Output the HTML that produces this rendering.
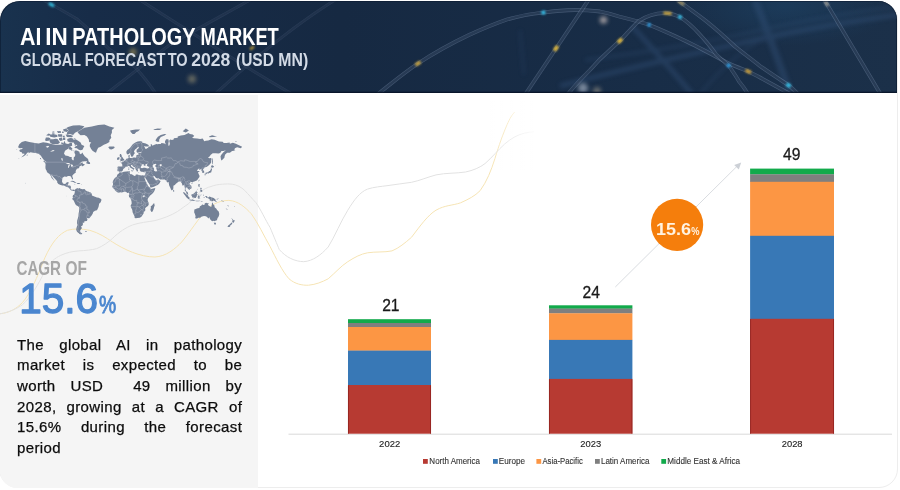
<!DOCTYPE html>
<html lang="en">
<head>
<meta charset="utf-8">
<title>AI in Pathology Market</title>
<style>
html,body{margin:0;padding:0}
body{width:900px;height:490px;background:#fff;position:relative;overflow:hidden;font-family:"Liberation Sans",sans-serif}
.card{position:absolute;left:-1px;top:1px;width:899px;height:487px;box-sizing:border-box;border:1px solid #ededed;border-radius:19px}
.panel{position:absolute;left:0;top:95px;width:257.5px;height:393px;background:#f5f5f5;border-radius:0 0 0 17px}
svg.art{position:absolute;left:0;top:0;width:900px;height:490px}
.t{position:absolute;white-space:nowrap;line-height:1;transform-origin:0 0}
.para{position:absolute;left:17px;top:334.6px;width:225.2px;font-size:15px;line-height:20.7px;color:#0c0c0c;letter-spacing:.38px;-webkit-text-stroke:.25px #0c0c0c}
.para div{text-align:justify;text-align-last:justify;white-space:nowrap}
.para div.last{text-align-last:left}
</style>
</head>
<body>
<div class="card"></div>
<div class="panel"></div>

<svg class="art" viewBox="0 0 900 490">
  <defs>
    <clipPath id="hc"><path d="M0 93V21A20 20 0 0 1 20 1H878.5A18.5 18.5 0 0 1 897 19.5V93Z"/></clipPath>
    <linearGradient id="hg" x1="0" y1="0" x2="1" y2="0">
      <stop offset="0" stop-color="#19324e"/>
      <stop offset=".1" stop-color="#172c48"/>
      <stop offset=".38" stop-color="#162942"/>
      <stop offset=".72" stop-color="#182d47"/>
      <stop offset="1" stop-color="#1b3049"/>
    </linearGradient>
    <radialGradient id="glow"><stop offset="0" stop-color="#1f4f78" stop-opacity=".38"/><stop offset="1" stop-color="#1f4f78" stop-opacity="0"/></radialGradient>
    <filter id="b2" x="-20%" y="-50%" width="140%" height="200%"><feGaussianBlur stdDeviation="2.2"/></filter>
    <filter id="b5" x="-20%" y="-50%" width="140%" height="200%"><feGaussianBlur stdDeviation="5"/></filter>
    <filter id="b1" x="-50%" y="-50%" width="200%" height="200%"><feGaussianBlur stdDeviation=".9"/></filter>
  </defs>

  <!-- ===== header ===== -->
  <g clip-path="url(#hc)">
    <rect x="0" y="0" width="900" height="94" fill="url(#hg)"/>
    <ellipse cx="785" cy="6" rx="110" ry="40" fill="url(#glow)"/>
    
    
    <!-- blurry background bands -->
    <g filter="url(#b2)" stroke="#35527a" fill="none" opacity=".42">
      <path d="M560 86 C620 70 700 52 760 39 C810 28 860 20 900 14.5" stroke-width="5"/>
      <path d="M585 60 C650 52 720 40 780 26 C830 16 870 10 900 6" stroke-width="3.5" opacity=".7"/>
      <path d="M755 0 C765 26 776 52 790 94" stroke-width="7"/>
      <path d="M632 26 C652 48 672 70 692 94" stroke-width="5"/>
      <path d="M700 94 C720 70 740 50 770 35" stroke-width="3" opacity=".6"/>
      <path d="M520 30 L524 75" stroke-width="3" opacity=".5"/>
    </g>
    <g fill="none">
      <path d="M378 94 C392 83 405 72 418 63.5 C434 53 450 44 469 35 C482 29 494 24 507 19.5 C519 16 531 13.8 543 12.6 C554 11.2 565 10.2 575 10 C584 10 592 10.5 600 11.5 C607 12.8 613 14.5 619 16.5 C629 19 639 21.5 649 24.8 C662 30 675 36 687 41.7 C700 48 713 55 726 62 C734 66 741 68.5 748 71.3 C752 73.5 756 75.3 760 77.5 C770 83 780 88.5 790 94" stroke="#a9bedb" stroke-width="3.8" opacity="0.3"/><path d="M378 94 C392 83 405 72 418 63.5 C434 53 450 44 469 35 C482 29 494 24 507 19.5 C519 16 531 13.8 543 12.6 C554 11.2 565 10.2 575 10 C584 10 592 10.5 600 11.5 C607 12.8 613 14.5 619 16.5 C629 19 639 21.5 649 24.8 C662 30 675 36 687 41.7 C700 48 713 55 726 62 C734 66 741 68.5 748 71.3 C752 73.5 756 75.3 760 77.5 C770 83 780 88.5 790 94" stroke="#172a44" stroke-width="2.5" opacity="0.62"/>
      <path d="M568 94 C575 85 582 78 590 70 C597 62 603 56 609.4 50.4 C613 47 616 44 620 40.7 C626 34.5 632 27.5 638.4 21.3 C647 15.5 657 12.5 667.5 13.2 C672 14 676 15.2 680 17 C687 21.5 693 27 698.5 33 C705 40 711 47 716 54.3 C720 58 724 61.5 728.6 65.5 C732 70.5 736 76 739 81.4 C742 85 745 89 748 94" stroke="#a9bedb" stroke-width="3.8" opacity="0.3"/><path d="M568 94 C575 85 582 78 590 70 C597 62 603 56 609.4 50.4 C613 47 616 44 620 40.7 C626 34.5 632 27.5 638.4 21.3 C647 15.5 657 12.5 667.5 13.2 C672 14 676 15.2 680 17 C687 21.5 693 27 698.5 33 C705 40 711 47 716 54.3 C720 58 724 61.5 728.6 65.5 C732 70.5 736 76 739 81.4 C742 85 745 89 748 94" stroke="#172a44" stroke-width="2.5" opacity="0.62"/>
      <path d="M677.5 0 C687 7 697 14 706 21 C716 29 726 38 735 46.5 C743 53 752 59.5 760 66 C770 73 780 79.5 788.5 85.3 C792 88 795 91 798 94" stroke="#a9bedb" stroke-width="3.8" opacity="0.3"/><path d="M677.5 0 C687 7 697 14 706 21 C716 29 726 38 735 46.5 C743 53 752 59.5 760 66 C770 73 780 79.5 788.5 85.3 C792 88 795 91 798 94" stroke="#172a44" stroke-width="2.5" opacity="0.62"/>
      <path d="M525.5 94 L588.5 0" stroke="#a9bedb" stroke-width="3.8" opacity="0.3"/><path d="M525.5 94 L588.5 0" stroke="#172a44" stroke-width="2.5" opacity="0.62"/>
      <path d="M824.5 0 L880.5 94" stroke="#a9bedb" stroke-width="3.8" opacity="0.3"/><path d="M824.5 0 L880.5 94" stroke="#172a44" stroke-width="2.5" opacity="0.62"/>
      <path d="M43.5 0 C55 6.5 66 12.5 77.5 19.4 C88 28.5 98 38 108.5 48.4 C118 55 127 61 135.7 67.8 C142 75 149 83 156 94" stroke="#a9bedb" stroke-width="3.0" opacity="0.12"/><path d="M43.5 0 C55 6.5 66 12.5 77.5 19.4 C88 28.5 98 38 108.5 48.4 C118 55 127 61 135.7 67.8 C142 75 149 83 156 94" stroke="#172a44" stroke-width="1.7" opacity="0.5"/>
      <path d="M106 94 C127 78 148 61 170 44.6 C195 30 225 14 250 0" stroke="#a9bedb" stroke-width="3.0" opacity="0.12"/><path d="M106 94 C127 78 148 61 170 44.6 C195 30 225 14 250 0" stroke="#172a44" stroke-width="1.7" opacity="0.5"/>
      <path d="M215 94 C250 62 290 28 335 0" stroke="#a9bedb" stroke-width="3.0" opacity="0.12"/><path d="M215 94 C250 62 290 28 335 0" stroke="#172a44" stroke-width="1.7" opacity="0.5"/>
      <path d="M140 0 C190 32 240 64 292 94" stroke="#a9bedb" stroke-width="3.0" opacity="0.12"/><path d="M140 0 C190 32 240 64 292 94" stroke="#172a44" stroke-width="1.7" opacity="0.5"/>
    </g>
    <!-- colored light patches -->
    <g stroke-linecap="butt" fill="none" filter="url(#b1)">
      <path d="M49 3.4 L54 6.2" stroke="#2fb6d8" stroke-width="3.2"/>
      <path d="M415.5 65.2 L420.5 61.8" stroke="#d9b040" stroke-width="3.4" opacity=".9"/>
      <path d="M541.5 12.8 L545.3 12.4" stroke="#35c0e8" stroke-width="3.6"/>
      <path d="M554.4 50.8 L557.6 46" stroke="#e0b83c" stroke-width="3.6"/>
      <path d="M618 42.6 L622 38.8" stroke="#e0b83c" stroke-width="3.6"/>
      <path d="M647.6 24.3 L650.6 25.3" stroke="#2f9fe6" stroke-width="3.4"/>
      <path d="M663.5 13 L671.5 13.6" stroke="#d9b040" stroke-width="3.2" opacity=".9"/>
      <path d="M678.4 16.2 L681.6 17.8" stroke="#35c0e8" stroke-width="3.6"/>
      <path d="M727.2 64.3 L730 66.7" stroke="#2f9fe6" stroke-width="3.4"/>
      <path d="M745.5 70.2 L751 72.6" stroke="#d9a93a" stroke-width="3.4" opacity=".9"/>
      <path d="M786.5 84 L790.5 86.6" stroke="#35c0e8" stroke-width="3.6"/>
      <path d="M678 0.5 L684 4.8" stroke="#cbb270" stroke-width="3.2" opacity=".7"/>
      <path d="M825 1 L828 6" stroke="#d8cfb5" stroke-width="3.2" opacity=".6"/>
      <path d="M250 49.3 L254 46.6" stroke="#c9a53a" stroke-width="2.6" opacity=".8"/>
    </g>
    <g filter="url(#b2)">
      <circle cx="133" cy="52" r="3.5" fill="#d9b85a" opacity=".55"/>
      <circle cx="192" cy="79" r="4" fill="#d9c48a" opacity=".4"/>
      <circle cx="603.5" cy="20" r="3.6" fill="#e0cfc8" opacity=".7"/>
      <circle cx="583" cy="88" r="5" fill="#c9d2e2" opacity=".55"/>
      <circle cx="597" cy="91" r="4" fill="#d9c8a8" opacity=".4"/>
    </g>
    <rect x="0" y="91.7" width="900" height="1.5" fill="#071327" opacity=".85"/>
    <path d="M0 93V21A20 20 0 0 1 20 1H878.5A18.5 18.5 0 0 1 897 19.5V93" fill="none" stroke="#0a182d" stroke-width="1.6" opacity=".7"/>
  </g>

  <!-- ===== decorative waves ===== -->
  <g fill="none" stroke-width="1">
    <path stroke="#f6e4b4" d="M0 313.8 C10 312.5 16 309 22.4 302.6 C30 294 37 278 44.9 257.7 C52 242 59 234 67.4 230.3 C74 228.4 82 228.6 89.8 230.3 C99 233 106 237.5 112.3 241.9 C124 249.5 140 257 154.9 257 C166 256.5 175 249 181.8 241.9 C190 232 199 218 206.5 209.4 C214 203 221 200.5 228.9 200.4 C238 201 245 207 251.4 213.9 C258 223 264 236 270 246.4 C276 258 282 271 289 278.8 C295 284 302 285.5 308.6 285.2 C316 284.5 322 282 328.2 278.8 C335 273 341 266 347.8 261.7 C355 257 361 254 367.5 252.8 C376 251.5 384 252.5 392 250.9 C399 248 405 243 411.6 237.2 C420 226 428 215 436 210.2 C445 205 453 205.5 460.6 202.8 C468 199.5 475 196 480.2 190.6 C487 181 491 171 494.9 158.7 C499 145 503 134 507.2 124.4 C510 118 512 115 514.5 112.2"/>
    <path stroke="#e2e2e2" d="M0 313.8 C10 312 17 308.5 22.4 304.8 C31 297 38 285 44.9 271.1 C50 262 55 258 60.6 255.4 C67 252.5 72 251.5 78.6 250.9 C86 250.5 91 250 96.5 248.7 C103 246 108 242.5 112.3 238.6 C119 232 126 227.5 132.4 225 C140 222.5 147 222 154.9 220.6 C163 218.5 171 215.5 177.3 211.6 C182 208.5 185 206 188.5 203.8 C192 200 196 196 199.8 192.5 C204 189 207 187.5 211 186.5 C215 185 218 184.5 222.2 184.2 C226 183.8 229 183.8 232.3 184.2 C237 185 241 187 244.6 190.3 C249 195 252 198.5 255.9 202.6 C260 208 266 221 270 227.3 C274 237 277 244 279.2 249.4 C286 257.5 295 261.5 303.7 261.7 C313 261 321 255 328.2 247 C335 236 341 221 347.8 210.2 C354 200 360 192 367.5 189.1 C374 187 381 186.5 387 185.7 C395 184.5 403 183.5 411.6 182.3 C420 180.5 428 177 436 174.9 C446 172.8 456 173.5 465.5 172 C473 170.5 480 167.5 485 163.6 C492 157.5 498 150 504.7 144 C511 138.5 517 135 524.3 133.2 C528 132.3 531 132 534 131.8"/>
  </g>
  <!-- fade-out masks for wave ends -->
  <defs>
    <linearGradient id="fade" x1="0" y1="0" x2="1" y2="0"><stop offset="0" stop-color="#fff" stop-opacity="0"/><stop offset="1" stop-color="#fff"/></linearGradient>
  </defs>
  <rect x="490" y="100" width="50" height="70" fill="url(#fade)"/>

  <!-- ===== world map ===== -->
  <path fill="#748196" fill-rule="evenodd" d="M18.0 147.3L19.3 144.3L21.8 142.1L25.2 141.0L29.3 141.9L34.9 142.9L38.7 143.6L43.1 142.2L46.8 142.7L51.2 144.1L55.6 144.7L60.0 144.7L63.1 144.3L64.4 140.8L65.6 143.6L68.1 144.1L70.0 143.0L71.9 143.0L72.2 145.7L69.4 146.8L68.1 148.8L65.0 150.8L64.0 153.6L65.3 155.4L68.1 155.9L70.0 156.9L71.7 157.0L71.7 158.9L72.8 160.3L73.7 160.2L73.7 157.6L75.0 156.3L75.3 154.5L74.4 152.7L74.7 150.4L76.9 150.5L79.4 151.7L79.7 153.6L80.9 154.2L82.5 152.4L83.1 154.1L84.7 156.3L86.3 157.6L88.1 158.9L88.3 160.2L86.3 161.2L83.1 161.2L81.3 162.0L79.4 163.8L82.5 162.2L82.8 163.8L85.0 164.6L83.8 165.6L81.9 166.5L81.9 165.4L81.3 165.4L79.4 166.4L79.1 167.7L79.4 168.0L76.9 168.8L75.9 170.6L75.6 171.7L75.9 172.6L74.4 173.5L72.5 175.2L72.3 176.6L73.1 178.6L72.8 179.5L72.0 179.0L71.4 177.6L70.6 176.2L69.4 176.0L67.5 176.1L67.2 176.8L66.2 176.7L64.4 176.6L62.5 177.7L62.2 179.6L62.0 181.4L62.8 183.2L64.0 184.1L65.6 183.8L66.5 182.4L68.1 181.9L68.7 182.6L68.1 184.2L67.8 185.5L69.4 185.6L70.9 186.0L70.9 187.7L70.7 188.8L71.6 189.8L73.1 189.8L73.7 189.6L74.7 190.1L74.4 190.9L73.1 191.0L72.2 190.6L71.2 190.4L70.0 189.3L69.4 188.4L68.4 187.4L67.2 187.1L65.6 186.5L64.0 185.4L62.5 185.6L60.6 184.9L58.4 183.9L57.2 182.6L57.2 181.3L55.6 179.6L54.7 178.4L52.8 176.6L52.1 175.4L51.3 175.1L51.5 176.2L52.8 177.9L54.0 180.0L54.5 180.9L53.1 179.6L51.5 177.7L50.9 176.2L49.9 174.5L49.0 173.5L47.8 173.1L46.8 171.5L46.5 170.6L45.6 168.9L45.4 166.9L45.6 164.4L45.1 162.7L46.2 162.6L46.2 161.8L44.3 160.6L43.1 158.9L41.8 157.2L40.6 155.4L38.7 154.1L37.1 153.6L35.6 152.9L33.1 152.7L30.6 152.2L28.4 153.3L28.7 151.7L27.1 153.1L25.5 155.0L23.7 156.3L21.2 157.4L22.4 156.3L24.3 154.5L24.6 153.8L22.1 153.6L21.8 152.2L19.9 151.7L19.3 150.3L20.2 149.6L22.4 149.0L22.4 148.0L19.9 148.3Z M73.1 138.2L75.6 139.2L78.1 140.8L80.6 142.5L81.6 144.7L84.4 145.9L83.4 147.8L82.5 149.8L80.6 150.3L78.8 149.8L76.9 148.3L74.4 148.0L75.0 146.8L77.5 145.2L74.4 144.1L73.7 142.5L70.0 142.5L67.5 141.3L67.2 139.0L70.0 138.0Z M50.0 139.0L53.1 139.2L55.6 138.8L57.5 139.0L60.0 142.5L58.1 143.9L55.0 143.9L52.5 144.1L50.6 143.2L49.3 140.8Z M45.0 140.2L45.9 137.5L48.7 137.5L50.6 138.6L48.7 140.8L46.2 141.1Z M66.9 134.6L70.0 134.0L73.1 134.9L75.0 132.7L78.1 131.3L82.5 128.4L84.4 126.2L79.4 125.2L73.1 125.4L68.1 126.9L65.6 128.4L68.7 130.6L66.9 132.7Z M65.6 134.6L66.9 136.9L71.9 137.2L73.1 135.9L70.6 134.9Z M49.6 135.0L53.1 134.1L57.2 135.0L57.5 136.7L54.3 137.4L50.3 136.8Z M63.1 129.2L66.9 128.4L68.7 130.2L66.9 132.0L63.7 131.3Z M59.0 138.3L61.9 137.5L62.8 140.2L60.6 141.1L59.0 139.8Z M62.9 137.5L65.2 137.5L65.3 139.9L63.1 139.9Z M57.8 134.3L62.2 134.3L62.2 136.7L58.4 136.7Z M68.7 147.0L70.6 146.8L72.5 148.8L71.2 150.0L68.7 149.3Z M86.1 163.3L87.2 160.7L88.3 160.2L88.8 161.8L90.0 162.6L90.1 164.0L88.5 164.0Z M42.9 160.7L45.0 161.2L46.0 162.7L44.6 162.4Z M39.9 158.0L40.9 158.0L41.2 159.6L40.4 159.1Z M70.0 181.6L71.9 180.8L73.7 181.1L75.9 182.4L76.8 182.8L74.7 183.0L74.4 182.5L72.5 181.7L70.9 181.6Z M76.6 183.9L77.6 183.0L79.4 183.0L80.4 183.8L79.1 184.1L78.1 184.1Z M74.2 184.0L75.4 184.1L74.9 184.4Z M81.1 183.9L82.1 183.9L82.1 184.3L81.1 184.3Z M77.5 132.0L80.6 129.9L84.4 127.7L91.9 126.5L98.2 124.9L104.4 124.6L109.4 126.5L114.4 127.8L111.9 129.9L111.9 132.7L110.7 135.3L111.3 137.8L109.4 140.2L109.4 141.9L106.9 143.6L103.8 144.7L100.7 146.8L98.2 147.8L96.9 150.3L96.0 152.7L94.4 152.0L92.5 150.8L91.0 148.8L89.7 146.3L90.0 144.1L91.3 142.5L89.1 141.9L88.8 139.6L86.9 136.6L84.4 135.0L80.6 135.3L78.8 133.7Z M108.0 147.3L109.4 146.4L111.9 146.6L114.1 146.6L114.7 147.8L113.2 148.8L111.3 149.4L109.1 148.9L109.4 148.0Z M74.7 190.1L75.9 188.8L76.6 188.6L78.1 187.9L78.4 188.7L79.4 188.1L80.6 188.8L82.5 189.2L84.4 188.9L85.0 189.6L85.6 190.3L86.9 191.2L88.8 191.8L90.6 192.5L91.3 193.1L91.9 194.5L91.9 195.6L93.2 196.0L95.0 196.7L96.9 197.4L98.8 197.7L100.0 198.6L101.2 199.0L101.4 200.3L100.7 202.2L99.1 203.8L98.8 205.7L98.5 207.0L97.5 209.3L96.9 210.3L95.0 210.8L93.2 211.9L92.8 213.6L91.6 215.6L90.3 217.0L89.4 218.2L87.8 218.3L86.6 217.7L87.5 219.5L86.9 221.0L84.4 221.3L84.2 222.8L82.5 222.8L83.1 224.1L82.3 225.8L80.9 226.6L82.0 228.0L80.6 229.8L80.0 231.0L80.4 231.8L78.8 233.0L78.1 232.7L76.9 231.5L76.2 229.8L76.6 227.4L77.5 225.1L77.0 223.2L77.2 220.6L77.8 218.4L78.4 216.3L78.6 213.6L79.1 210.9L79.3 208.3L79.1 207.2L78.1 206.3L76.2 205.3L75.4 204.3L74.7 202.8L73.7 200.6L72.5 199.4L72.3 198.4L73.1 197.5L72.6 196.9L72.8 195.9L73.1 195.1L73.9 194.7L74.7 193.1L74.8 191.5Z M80.3 232.0L82.4 233.8L81.6 234.2L80.0 234.3L78.8 233.6L79.1 232.7Z M85.0 230.9L86.9 230.9L86.6 231.8L85.3 231.7Z M119.5 172.2L121.9 172.6L123.8 171.7L126.3 171.5L128.8 171.2L130.0 171.3L129.6 173.1L130.1 174.0L131.7 174.3L132.9 174.9L134.5 175.9L135.7 175.6L135.8 174.5L137.6 174.4L138.8 175.1L141.4 175.6L142.6 175.2L143.4 175.4L143.5 176.2L144.2 177.6L145.1 179.6L145.5 180.9L146.4 182.3L146.5 183.6L147.3 184.2L147.9 185.8L149.2 187.1L150.2 187.7L150.3 188.4L151.4 189.0L153.2 188.6L155.3 188.1L155.0 189.6L154.2 191.2L153.2 192.8L152.0 194.0L150.4 195.3L149.2 196.7L148.2 198.1L147.6 199.7L147.9 201.2L148.6 202.5L148.7 204.7L147.9 206.0L146.4 207.0L145.1 208.3L145.4 210.3L143.9 211.9L143.7 213.3L142.9 214.6L141.4 216.7L139.8 217.7L137.6 217.9L135.7 218.3L134.7 217.9L134.5 216.3L133.5 214.3L132.6 212.2L132.3 209.9L131.0 207.3L130.6 205.7L131.7 203.5L131.5 201.2L130.9 199.4L130.6 198.4L129.1 196.9L128.8 195.3L129.3 194.0L129.1 193.1L128.5 192.8L127.3 192.9L126.0 191.7L124.5 191.7L122.6 192.3L121.6 192.5L120.4 192.3L118.5 192.8L117.3 192.2L116.0 191.3L114.9 190.3L114.7 189.4L113.8 188.7L112.7 187.7L112.2 186.3L112.9 185.2L113.1 183.6L112.6 182.3L113.2 180.6L114.1 179.0L115.1 177.7L116.9 176.6L117.1 175.2L117.9 174.0L118.9 173.5Z M154.1 203.1L154.7 205.4L154.2 206.7L153.6 208.9L152.6 211.6L151.4 211.9L150.6 210.6L150.4 209.3L150.9 208.0L150.7 206.3L152.0 205.6L153.2 204.1Z M117.6 171.3L117.4 170.1L117.7 168.4L117.4 166.9L118.2 166.4L120.7 166.5L122.1 166.6L122.4 165.0L121.8 163.6L120.3 162.8L121.3 162.4L122.3 162.5L122.1 161.6L123.3 161.8L124.2 160.7L125.4 160.2L126.0 159.3L126.3 158.7L127.6 158.5L128.7 158.0L128.4 156.7L128.3 155.4L129.8 154.8L129.6 156.3L129.5 157.6L130.1 158.0L132.0 158.0L133.5 157.6L134.8 157.4L135.7 157.7L136.3 156.7L136.3 155.4L137.3 154.8L138.4 155.2L138.4 154.1L137.9 153.4L139.5 153.0L140.7 153.1L142.0 152.7L140.7 152.2L138.8 152.5L137.3 152.7L136.5 151.7L136.7 149.8L138.5 148.3L139.0 147.3L137.9 147.0L136.7 148.3L135.1 149.6L134.0 151.3L134.2 152.2L135.0 152.9L134.5 153.6L133.5 155.0L133.2 156.1L132.2 156.7L131.3 156.8L131.2 156.0L130.6 155.0L130.1 153.6L129.8 153.1L128.8 154.1L127.6 154.5L126.6 153.6L126.3 151.7L127.3 150.1L128.8 149.0L130.1 147.8L131.3 146.3L132.3 144.7L133.8 143.4L135.4 142.5L137.6 141.6L139.3 141.2L141.0 141.3L142.6 142.1L142.0 142.8L143.9 143.1L145.7 143.4L148.2 144.7L149.0 145.9L148.2 146.6L145.7 146.5L143.9 146.0L144.8 147.3L145.0 148.4L146.4 148.9L147.0 148.1L148.2 148.2L148.2 147.1L149.8 146.4L150.7 146.5L150.9 144.7L150.4 144.0L152.0 144.4L152.3 145.8L153.9 144.9L156.4 144.1L157.3 144.3L158.9 144.0L160.8 144.1L161.4 142.9L163.3 143.2L165.1 143.8L166.1 144.4L165.1 142.8L165.0 141.3L166.1 139.2L168.3 139.2L168.8 141.3L168.3 144.1L168.6 145.9L169.5 145.2L169.8 143.6L169.2 140.8L170.2 139.6L172.0 139.9L173.6 139.6L173.9 138.3L177.7 137.8L177.7 136.6L180.8 135.5L184.5 134.9L188.5 133.1L189.9 134.0L192.7 134.4L194.3 135.9L192.1 137.8L193.9 138.2L197.1 138.4L200.2 139.0L202.7 138.6L204.3 141.3L205.8 140.8L208.3 140.6L210.8 139.6L211.5 139.2L214.6 139.8L217.1 140.8L219.0 141.5L222.7 141.7L223.7 142.9L226.5 143.0L229.6 142.6L229.9 143.8L232.8 142.7L235.9 143.7L239.0 145.2L242.1 146.8L240.9 148.3L237.1 147.3L234.9 148.2L234.3 150.3L235.6 150.5L232.1 151.0L229.9 152.7L227.1 152.7L225.2 154.5L224.6 156.3L224.5 157.4L223.4 158.7L222.4 159.7L221.3 160.6L220.9 158.9L220.5 156.3L221.5 154.5L223.4 152.2L224.9 151.1L225.9 150.3L223.4 151.0L221.5 151.1L220.2 153.1L218.4 153.6L215.8 153.3L212.7 153.3L210.8 154.8L209.3 156.7L208.0 157.4L209.3 158.2L210.8 158.0L211.7 158.7L211.2 160.6L211.2 162.6L209.9 164.2L208.3 165.8L206.5 167.1L205.2 167.3L204.6 167.4L204.4 168.0L203.3 169.1L203.0 169.7L204.1 171.3L204.3 172.4L203.0 173.1L202.3 173.1L202.4 171.7L201.4 170.8L201.6 169.5L201.0 169.1L199.6 169.9L199.1 170.0L199.6 168.8L198.9 168.6L197.7 169.7L196.9 170.0L197.6 171.0L198.9 170.9L199.9 171.2L198.6 171.9L197.9 172.8L198.5 173.5L198.9 174.5L199.4 175.6L199.6 176.2L199.3 177.3L198.3 178.6L197.7 179.6L196.8 180.5L195.5 181.1L194.3 181.5L192.7 182.1L192.2 182.7L191.7 181.9L190.8 181.9L189.9 182.8L189.4 183.6L190.2 184.9L191.3 185.8L191.6 187.4L191.4 188.4L190.2 189.1L189.9 189.6L188.9 190.1L188.8 189.3L188.0 189.0L187.4 188.1L186.4 187.6L186.1 187.1L185.8 188.1L185.4 189.3L185.7 190.0L186.1 191.2L186.9 191.5L187.7 192.2L188.0 193.4L188.4 194.7L187.9 194.7L186.6 193.8L186.0 192.2L185.6 191.3L184.7 190.6L184.9 189.3L184.9 188.1L184.5 186.8L184.4 185.3L183.3 185.2L182.2 185.5L182.2 184.2L181.7 183.0L180.8 181.9L180.4 181.3L179.5 181.6L178.6 181.8L177.7 182.1L177.3 182.9L176.4 183.2L174.8 184.9L173.4 185.8L173.4 187.2L173.2 189.1L172.7 189.8L172.0 190.3L171.7 190.6L171.0 189.6L170.5 188.2L169.8 186.8L169.2 185.5L168.8 183.6L168.7 182.3L168.3 182.1L167.3 182.4L166.4 181.5L167.0 181.1L166.1 180.6L165.3 180.0L164.8 179.4L163.3 179.4L161.7 179.5L160.1 179.4L158.9 178.4L158.6 178.2L157.3 178.6L156.1 177.9L155.1 177.1L154.5 176.1L153.7 176.0L153.2 176.5L153.7 177.6L154.5 178.5L154.6 179.2L155.3 178.9L155.4 179.9L156.7 180.2L157.8 179.4L158.4 178.8L158.6 180.0L159.8 180.6L160.6 181.3L159.8 182.7L159.3 183.6L158.6 184.2L157.6 184.9L155.9 185.7L153.9 186.7L151.4 187.5L150.4 187.6L150.0 186.3L149.9 185.2L148.9 183.6L147.7 181.9L147.0 180.3L146.0 179.0L145.1 177.6L145.0 176.6L144.7 177.7L144.0 177.3L143.5 176.2L143.4 175.4L144.6 175.4L145.1 174.2L145.7 172.2L145.7 171.5L144.5 171.8L143.2 172.0L142.3 171.7L141.4 171.7L140.4 171.3L139.8 170.2L139.8 169.5L139.6 169.1L139.5 168.6L138.2 168.6L137.6 168.9L137.9 169.9L138.2 170.6L137.6 171.0L137.6 171.7L136.8 171.5L136.5 170.4L135.7 169.4L135.3 168.0L134.8 167.3L133.2 166.5L132.3 165.2L131.8 164.9L130.9 165.1L131.0 166.1L131.8 166.9L133.2 167.7L134.8 169.0L133.8 168.9L133.6 169.9L133.2 170.6L133.0 170.5L133.2 169.5L132.6 169.0L132.0 168.4L130.9 167.9L129.8 166.9L129.5 166.1L128.7 165.8L127.9 166.3L127.0 166.8L126.0 166.6L125.2 166.9L125.2 167.8L123.8 168.4L123.0 169.5L122.9 170.3L121.9 171.5L120.4 171.5L119.8 172.1L119.3 171.5L118.6 171.2Z M119.6 161.4L121.0 161.2L122.6 160.8L124.0 160.4L124.3 159.2L123.3 158.7L123.1 157.8L122.3 157.2L121.9 156.3L121.3 156.3L121.9 155.0L121.0 154.8L121.3 154.0L120.1 154.0L119.6 155.0L119.8 156.3L120.1 157.2L121.0 157.3L121.3 158.0L121.3 158.6L120.4 158.6L120.6 159.3L119.9 159.9L121.0 160.2L121.3 160.3L120.4 160.6Z M116.9 160.0L119.3 159.6L119.4 158.5L119.7 157.5L118.8 156.9L117.9 157.5L116.9 157.9L117.3 158.9Z M130.1 130.6L132.6 129.9L135.7 129.4L140.1 129.6L138.2 131.3L136.3 132.0L134.5 134.0L132.6 134.0L130.7 132.0Z M155.4 140.4L156.4 138.8L157.9 136.8L160.8 135.0L164.5 134.0L166.4 134.3L164.5 135.5L160.8 137.1L159.2 139.6L159.2 141.7L157.0 141.7Z M153.2 129.6L157.6 128.4L162.0 128.7L159.5 129.9L154.5 130.0Z M182.7 131.3L185.8 128.4L188.9 130.6L185.8 132.4Z M209.0 136.6L212.1 135.3L215.8 136.2L217.1 136.6L213.3 136.9L209.6 137.2Z M234.9 141.3L237.1 140.9L235.9 141.7Z M212.1 157.8L212.7 158.9L213.0 161.4L212.7 163.8L212.1 164.6L212.1 162.2L212.1 159.7Z M210.8 168.0L211.0 166.7L211.9 165.1L214.2 166.5L212.9 167.7L211.5 167.3Z M211.5 168.2L212.1 169.5L211.5 171.0L211.3 172.3L210.2 172.8L209.0 173.0L208.2 173.8L207.7 173.0L206.1 173.5L205.2 173.5L205.2 173.1L206.5 172.4L208.3 172.3L209.0 171.1L209.9 171.1L210.8 169.5L210.8 168.6Z M204.6 173.8L205.6 173.7L205.5 175.2L204.8 175.4Z M206.1 173.5L207.4 173.3L207.3 173.8L206.5 174.3Z M199.3 179.5L199.6 180.0L198.8 181.6L198.3 180.9Z M191.2 183.4L192.4 182.9L192.7 183.2L191.7 184.1Z M173.3 189.4L174.4 190.9L173.9 191.7L173.3 191.8L173.1 190.6Z M198.6 183.9L199.7 184.0L199.6 185.5L199.3 186.5L200.8 187.4L200.5 187.5L199.6 186.9L198.8 186.9L198.5 186.3L198.2 185.3Z M199.6 191.2L200.5 190.3L201.8 189.4L202.4 190.9L202.1 191.7L201.8 192.0L200.8 191.5Z M200.2 188.4L201.4 187.7L201.8 188.7L200.8 189.3L200.2 189.8L199.9 189.0Z M196.6 190.3L198.0 188.5L197.7 189.3L196.8 190.4Z M182.9 192.2L184.2 192.3L186.0 193.9L188.0 195.6L188.6 196.9L189.6 197.5L189.4 199.2L188.6 199.2L187.1 198.1L186.1 196.9L185.2 195.4L183.9 194.0Z M189.1 199.9L189.9 199.4L191.1 199.7L192.6 199.6L193.8 200.0L194.9 200.5L194.8 201.1L192.7 200.8L190.8 200.5L189.7 200.2Z M191.4 194.7L191.7 194.3L192.9 194.0L193.9 193.6L194.9 192.6L195.8 191.5L196.4 191.2L196.9 191.7L197.7 192.3L197.1 192.9L196.9 194.0L197.7 195.0L196.8 195.3L196.8 196.2L196.1 197.2L195.8 198.1L194.9 198.1L193.9 197.6L193.0 197.7L192.2 197.2L192.1 196.4L191.4 195.6Z M198.0 199.0L197.9 197.8L197.6 197.2L198.2 195.6L198.6 194.8L200.2 195.0L201.6 194.5L201.1 195.3L198.9 195.3L198.4 196.1L199.3 196.2L200.4 196.1L199.6 196.7L199.3 197.2L199.9 197.8L200.2 198.7L199.6 198.7L199.1 197.8L198.6 197.5L198.6 199.0Z M195.2 200.7L196.4 200.7L197.7 200.8L198.9 200.8L200.2 200.7L200.2 201.1L198.3 201.2L196.4 201.2L195.2 201.1Z M200.5 202.1L201.4 201.2L202.8 200.9L202.4 201.4L201.1 202.0Z M203.0 194.5L203.7 195.0L203.3 196.1L203.0 195.6Z M203.3 197.4L205.1 197.5L204.6 197.9L203.3 197.8Z M205.2 196.1L206.1 195.9L207.2 196.2L207.3 197.2L208.0 197.7L209.3 196.6L211.5 197.2L213.7 198.1L215.5 199.4L215.8 200.9L217.4 202.2L216.2 202.1L214.6 200.9L213.3 200.4L212.7 201.2L211.5 201.3L210.2 200.6L209.6 200.8L209.9 199.7L209.0 198.7L207.4 198.1L206.5 198.1L205.8 197.4L206.8 197.0L206.0 197.0L205.2 196.4Z M216.2 199.0L217.7 198.7L218.5 198.2L218.4 199.0L217.1 199.5Z M220.9 200.0L223.4 201.2L224.3 202.1L223.4 201.8L221.2 200.5Z M225.9 208.3L227.7 209.8L227.4 209.9L225.9 208.7Z M227.4 205.1L228.1 205.1L228.7 206.7L228.1 206.3Z M234.2 206.6L235.1 206.7L234.9 207.1L234.2 207.1Z M194.3 209.6L194.6 209.5L196.3 208.7L197.7 208.3L199.3 208.0L199.7 207.0L199.9 206.3L200.6 205.9L201.4 205.4L202.1 204.4L203.2 204.7L203.6 205.1L204.4 204.9L204.6 203.8L205.1 203.3L206.1 202.7L207.7 203.3L208.8 203.1L208.3 204.1L208.0 205.1L209.0 205.7L210.5 206.7L211.3 206.7L211.8 205.1L211.9 203.5L212.4 202.3L213.0 203.5L213.2 204.6L214.2 205.1L214.6 206.7L214.8 207.6L216.2 208.4L216.8 209.6L217.6 210.5L218.7 211.6L219.1 212.9L219.3 213.9L219.0 215.6L218.4 216.9L217.7 217.7L217.1 219.5L217.1 220.2L215.8 220.6L214.8 221.3L213.7 220.8L212.7 221.2L211.5 220.7L210.5 219.7L209.9 218.8L209.6 218.1L209.4 217.0L209.0 217.7L208.3 218.4L207.9 218.1L207.1 217.0L205.8 216.3L204.0 216.1L202.1 216.5L200.8 217.0L200.5 217.7L198.3 217.7L197.1 218.4L195.8 218.4L195.2 217.9L195.6 216.3L195.2 215.0L194.6 213.3L194.1 212.2L194.3 210.9Z M213.8 222.6L214.9 222.8L216.0 222.8L215.8 224.3L215.1 224.8L214.3 224.3Z M231.3 218.0L232.4 219.1L233.1 219.7L233.4 220.3L234.6 220.3L234.8 221.0L234.0 221.7L233.7 222.4L232.9 223.2L232.6 223.0L232.8 222.1L232.0 221.5L232.6 220.6L232.4 219.7L231.5 218.4Z M231.3 222.4L232.1 223.0L232.2 223.5L231.4 224.7L230.4 225.3L230.1 226.5L229.3 227.0L228.4 227.0L227.4 226.6L228.1 225.7L228.7 225.1L229.9 224.3L230.6 223.4Z M131.0 170.6L132.9 170.5L132.7 171.5L131.0 170.9Z M128.3 168.4L129.3 168.4L129.2 169.7L128.5 169.9Z M128.6 167.3L129.1 166.9L129.1 168.0L128.7 168.0Z M137.9 172.3L139.6 172.5L138.5 172.8Z M143.4 172.8L144.8 172.3L144.2 173.0Z M25.5 182.8L26.2 183.2L25.7 183.6Z M24.2 181.9L24.5 182.1L24.3 182.1Z M65.9 195.8L66.4 195.9L66.1 196.2Z M215.2 165.4L216.2 164.7L215.8 165.2Z M18.0 158.4L19.3 158.0L19.0 158.5Z M26.5 155.0L27.7 154.5L27.7 155.4L26.8 155.6Z M15.8 149.3L17.4 149.5L16.8 149.8Z M46.2 135.3L48.7 133.6L50.9 134.5L49.3 135.8L46.8 135.5Z M51.8 132.8L54.3 132.5L54.7 133.6L52.5 133.7Z M56.8 131.3L60.6 130.9L61.2 132.7L58.1 132.9Z M61.9 131.6L63.7 131.8L63.7 132.9L62.2 132.9Z M62.8 135.8L64.7 135.8L64.7 136.9L62.8 136.9Z M72.5 138.2L75.3 138.3L75.3 139.4L73.1 139.5Z M60.9 142.6L63.1 142.7L63.4 144.0L61.5 144.1Z M74.7 144.4L75.9 144.4L75.9 145.5L74.7 145.5Z M52.5 131.6L54.3 131.4L54.3 132.1L52.5 132.2Z M70.9 149.8L72.5 149.8L72.2 150.6L70.9 150.5Z M72.8 150.4L73.6 150.4L73.4 151.2L72.8 151.1Z M82.8 161.5L84.5 161.9L84.1 162.1L82.9 161.7Z M140.7 167.8L141.0 166.5L141.8 165.2L142.6 164.1L143.9 164.6L144.2 164.7L143.5 165.1L144.2 165.8L145.4 165.4L146.0 165.2L145.1 164.4L147.0 163.7L147.6 164.0L146.7 165.0L147.3 165.9L148.9 166.9L149.2 168.0L147.6 168.4L145.7 168.0L145.1 167.7L143.5 167.8L142.0 168.3Z M153.9 164.2L155.4 163.8L156.4 164.2L156.1 165.1L155.1 165.8L154.7 165.9L156.2 167.1L156.4 168.4L156.3 169.1L157.0 169.9L156.9 171.3L155.8 171.5L154.5 171.0L153.9 170.2L154.2 168.9L153.6 167.8L152.9 166.9L152.6 165.8L153.2 164.6Z M159.8 164.6L161.4 164.1L161.7 165.7L160.1 166.4L159.7 165.5Z M143.1 195.4L144.5 195.5L144.5 197.0L143.2 197.2Z M65.6 164.0L67.5 162.9L69.1 163.1L70.3 164.2L68.7 164.2L66.9 164.1Z M68.2 167.7L68.1 165.8L69.1 164.7L70.0 164.8L69.2 166.5L68.9 167.9Z M70.3 164.6L72.2 164.6L73.1 165.7L72.1 166.7L71.6 166.7L70.9 165.8L71.1 165.0Z M71.1 167.8L73.7 167.1L75.4 166.1L75.3 166.6L73.6 166.7L71.9 167.5Z M45.6 146.8L48.1 145.7L49.3 146.6L47.5 147.8Z M50.0 151.7L52.5 150.3L54.7 150.1L53.4 151.3Z M61.2 158.2L62.5 158.2L62.8 161.0L61.7 160.2Z"/>
  <path fill="none" stroke="#eef1f5" stroke-width=".38" stroke-opacity=".52" stroke-linejoin="round" d="M46.2 162.2L63.7 162.2L67.2 163.0L70.3 164.2L71.6 165.1L71.6 166.9L73.7 166.7L75.3 166.1L76.4 165.4L78.4 165.4L79.9 163.5L80.8 163.8L81.3 165.4 M34.9 142.9L34.9 152.4L37.4 153.6L38.7 153.1L39.9 155.0L41.8 156.7 M49.9 174.5L51.3 174.5L53.7 175.4L55.5 175.4L56.5 175.0L57.8 176.5L58.7 176.9L59.7 176.4L60.9 177.9L62.4 179.0 M65.5 186.5L66.2 185.5L66.5 184.3L67.4 184.3L67.9 184.0 M67.4 184.3L67.4 185.6L67.8 185.6 M67.3 186.5L68.2 187.2 M67.3 186.5L67.8 185.6 M68.4 187.4L69.7 186.8L71.1 186.1 M69.6 188.6L70.8 188.8 M71.3 190.5L71.5 189.6 M78.4 188.2L77.8 190.0L78.1 191.0L79.4 191.2L80.9 191.7L81.3 194.3L81.3 194.8 M81.3 194.8L83.1 194.3L83.1 193.1L85.0 192.8L85.2 192.3L85.6 192.5 M85.2 192.3L84.8 191.8L85.6 190.3 M87.4 191.8L86.9 193.1L87.8 194.3 M89.4 192.0L89.1 194.2 M90.8 193.0L90.3 194.0L89.1 194.2L87.8 194.3L86.6 194.8L85.6 194.3L85.6 192.5 M81.3 194.8L79.7 195.0L79.7 196.2L79.4 198.2 M73.9 194.7L75.0 195.4L76.1 195.6 M76.1 195.6L77.5 197.0L79.4 198.2 M76.1 195.6L75.9 196.5L74.2 197.7L72.9 197.7 M79.4 198.2L77.5 198.7L76.9 200.2L77.5 201.6L79.1 201.6L79.0 202.5L79.7 202.5 M79.7 202.5L80.1 203.5L80.0 205.1L79.7 206.7L79.1 207.2 M79.7 202.5L82.3 201.8L82.5 203.1L85.3 204.1L85.6 205.8L86.7 205.9L87.1 207.0L86.9 208.3 M79.7 206.7L80.3 207.6L80.5 209.3L81.1 210.1 M81.1 210.1L82.5 209.6L83.9 209.7 M83.9 209.7L84.4 208.6L86.3 207.8L86.9 208.3 M86.9 208.3L86.9 209.6L88.3 209.8L89.2 210.9L89.0 211.9 M83.9 209.7L86.9 211.6L87.1 213.1L88.1 213.1L89.0 211.9 M89.0 211.9L89.5 212.9L87.1 215.1 M87.1 215.1L88.5 215.6L89.8 217.5 M87.1 215.1L86.6 217.7 M81.1 210.1L80.3 211.6L79.7 213.6L79.4 215.6L79.4 217.7L78.8 219.9L78.4 222.1L78.1 224.3L78.4 226.6L77.8 229.0L77.8 230.6L80.0 231.6L80.4 231.8 M80.3 232.0L80.3 233.9 M121.9 172.6L122.3 174.7L121.0 175.6L119.8 176.4L117.8 177.1L117.8 177.9 M117.8 177.9L115.1 177.9 M117.8 177.9L117.8 179.0L115.7 179.0L115.7 180.6L115.1 180.9L115.1 182.1L112.6 182.1 M117.8 178.1L120.2 179.6L124.0 182.3L125.2 183.2L125.8 183.5 M128.6 171.3L128.4 172.8L127.9 173.6L128.8 174.9L129.1 176.1 M129.1 176.1L129.5 178.3L129.5 180.0L130.7 180.6 M130.7 180.6L127.9 182.4L125.8 183.5 M129.1 176.1L130.4 174.0 M138.8 175.1L138.8 181.6 M138.8 181.6L146.3 181.6 M138.8 181.6L138.8 182.9L138.2 182.9L138.2 183.2 M138.2 183.2L133.2 180.6L132.6 180.9 M132.6 180.9L130.7 180.6 M132.6 180.9L132.9 182.3L132.9 185.0L131.7 186.5L131.7 187.0 M138.2 183.2L138.2 185.7L137.3 186.8L137.3 188.7L137.9 189.2 M120.2 179.6L119.1 179.6L119.8 185.3L119.9 185.8L116.6 185.9L115.6 186.3 M115.6 186.3L114.4 185.1L112.9 185.4 M115.6 186.3L116.1 187.8 M116.1 187.8L114.6 187.7L112.7 187.8 M112.7 187.0L114.4 187.1 M116.1 187.8L117.9 188.7L118.2 189.2 M114.9 190.0L116.6 190.3L116.0 191.3 M116.6 190.3L117.9 190.8L118.5 192.8 M118.2 189.2L119.8 189.1L121.4 189.5 M121.4 189.5L121.2 192.4 M121.4 189.5L121.4 188.7L123.2 188.6 M123.2 188.6L123.6 190.6L124.0 191.8 M123.8 188.7L124.2 191.7 M125.5 188.2L124.9 191.6 M119.8 189.1L120.7 187.2L122.9 186.1L123.3 186.1 M123.3 186.1L124.6 187.8L125.5 188.2 M123.3 186.1L125.4 185.9L125.8 185.0L125.8 183.5 M125.5 188.2L125.7 187.1L127.6 187.4L129.5 187.2L131.7 187.0 M131.7 187.0L132.1 187.7L131.3 189.3L130.4 191.3L129.3 191.5L128.6 192.6 M132.1 187.7L132.9 189.3L132.0 189.3L132.7 190.9 M132.7 190.9L132.3 192.2L133.2 194.2 M132.7 190.9L134.8 190.6L136.3 189.4L137.9 189.2 M137.9 189.2L138.4 190.4L140.4 192.4 M133.2 194.2L134.8 193.4L134.8 192.9L137.3 193.0L138.8 192.5L140.4 192.4 M129.3 194.2L131.5 194.2L133.2 194.2 M129.2 195.0L130.3 195.0L130.3 194.2 M131.5 194.2L132.2 195.9L132.2 196.9L130.4 197.2L130.2 198.0 M133.2 194.2L134.3 195.9L133.3 196.9L133.1 198.1L132.3 198.6L131.3 198.5L130.8 199.2 M130.8 199.2L133.5 199.3L133.8 200.3L135.3 200.6L136.8 200.2L136.8 202.5L138.2 202.5L138.2 203.7 M138.2 203.7L137.0 203.8L137.0 205.8L137.8 206.7 M130.6 206.5L132.0 206.6L134.8 206.6L137.8 206.7L139.0 206.9 M136.3 207.2L136.3 209.6L135.7 209.6L135.7 213.9 M133.5 214.0L135.7 213.9 M135.7 211.4L137.0 212.6L139.2 212.0L140.1 210.7L141.6 209.7 M139.0 206.9L140.4 208.6L141.6 209.7 M141.6 209.7L142.8 209.9 M142.8 209.9L143.7 208.0L143.9 206.3L142.2 205.4 M139.0 206.9L140.1 206.9L141.3 205.7L142.2 205.4 M138.2 202.5L140.4 203.3L141.9 204.0L141.1 201.4L142.4 200.7 M142.2 205.4L143.9 204.4L143.9 202.2L143.8 201.5 M142.4 200.7L143.8 201.5 M143.9 204.4L145.4 206.0L145.6 204.7L144.9 202.9 M144.9 202.9L146.7 203.0L148.5 202.2 M143.8 201.5L144.9 202.9 M142.4 200.7L141.5 198.4L141.5 197.3 M144.5 196.2L146.8 197.5L147.7 198.5 M142.3 196.2L144.5 196.2 M141.5 197.3L142.5 197.1L142.3 196.2 M141.5 197.3L141.7 196.5L141.9 195.1L142.6 194.2L142.5 193.4 M144.5 196.2L144.5 195.0L145.1 194.5L144.5 193.0 M142.5 193.4L144.5 193.0 M144.5 193.0L145.7 192.8L147.9 193.4L148.9 193.2L149.4 193.2 M149.4 193.2L148.9 194.0L148.9 196.1L149.2 196.7 M149.4 193.2L151.4 192.5L153.2 190.6L150.7 190.0L150.0 188.8L150.3 188.4 M144.5 193.0L145.6 192.3L143.9 190.6L144.5 189.3L145.1 188.1L146.0 186.6 M146.0 186.6L147.6 186.4L149.7 187.7 M146.0 186.6L146.4 184.9L147.4 184.2 M138.4 190.2L140.7 189.6L142.6 189.4L143.9 189.0L144.5 189.6 M140.4 192.4L142.5 193.4 M142.8 209.9L143.2 211.2L143.2 212.8L143.8 212.8 M140.1 214.7L141.2 214.0L141.6 214.7L140.9 215.3L140.1 214.7 M117.7 167.7L119.1 167.8L118.8 169.5L118.6 171.2 M122.1 166.6L125.2 167.4 M124.8 160.5L125.8 161.4L127.0 161.8L128.3 162.2L128.0 163.3 M128.0 163.3L127.0 164.4L127.6 164.7L127.5 165.9L127.9 166.3 M127.6 164.7L128.8 164.6L129.8 164.0L129.2 163.4L128.0 163.3 M127.6 158.6L127.0 159.9L127.0 160.7 M125.3 160.2L127.0 160.4 M128.6 157.3L129.4 157.4 M132.1 158.1L132.3 160.6L132.6 160.6 M132.6 160.6L130.8 161.2L131.8 162.5 M131.8 162.5L131.3 163.4L129.2 163.4 M129.8 164.0L131.8 164.2 M131.8 162.5L133.8 162.5L133.9 163.0L133.3 163.9 M132.6 160.6L135.0 161.8L137.3 162.1 M137.3 162.1L138.2 161.0L138.0 159.7L138.2 158.0L137.5 157.7L135.6 157.7 M136.3 156.2L139.9 156.6 M138.4 154.6L140.4 155.0 M140.9 153.2L140.4 155.0L140.9 156.2L139.9 156.6L139.4 157.9L138.2 158.0 M138.0 160.1L142.3 160.3L143.1 159.7 M140.9 156.2L142.6 157.2L143.7 158.5L143.1 159.7 M143.1 159.7L145.4 161.1L148.2 161.7L148.1 163.2L147.1 163.7 M137.3 162.1L137.5 163.0L139.9 162.8L140.9 165.0L141.8 165.1 M139.9 162.8L142.0 164.2L140.9 165.0 M137.5 163.0L135.9 164.5 M135.9 164.5L135.0 164.7L133.3 163.9 M137.4 166.0L141.1 166.4 M135.9 164.5L137.4 166.0 M137.5 168.2L139.7 167.9L140.7 167.7 M139.7 167.9L139.5 168.6 M137.4 166.0L137.2 167.4L137.5 168.2 M137.5 168.2L136.2 168.5L135.7 169.4 M133.2 165.2L135.1 165.4L135.3 166.1L134.8 167.3 M131.8 164.9L133.3 163.9 M135.3 166.1L136.0 167.1L135.3 167.7 M136.0 167.1L137.2 167.4 M133.9 163.0L135.0 163.2L137.1 162.7 M133.8 162.5L135.0 161.8 M130.4 153.6L131.0 151.7L130.7 149.3L132.3 146.8L133.8 144.7L136.0 143.6 M136.0 143.6L137.9 145.2L138.2 147.0 M136.0 143.6L139.2 143.6L140.7 142.5L141.4 143.2L142.5 142.7 M141.4 143.2L142.0 145.2L141.7 148.3L142.9 150.0L140.6 152.2 M118.6 157.2L119.3 158.0 M145.7 172.1L147.0 171.5L149.7 171.2L151.2 171.2L150.7 169.6L151.2 169.4 M149.2 168.0L150.4 168.3L151.2 169.4 M148.2 166.6L150.4 167.2L152.3 167.7 M152.3 167.7L153.6 167.8 M152.3 167.7L151.4 168.3L151.7 169.5 M150.4 168.3L151.4 168.3 M151.2 169.4L153.2 169.6L153.8 170.3 M149.7 171.2L148.9 173.2L147.5 173.9 M147.5 173.9L145.6 174.4 M145.6 174.4L145.4 175.6L145.1 176.6 M145.6 174.4L145.5 174.0L146.0 173.0L145.7 173.0 M144.7 175.4L145.0 176.6 M147.5 173.9L147.7 174.8L146.4 175.2L147.0 175.9L146.0 176.8L145.0 176.7 M147.7 174.8L149.5 175.6L151.2 176.8L152.3 176.9L153.1 177.3 M152.3 176.9L153.2 176.2 M151.2 171.2L152.0 172.4L151.7 173.5L153.1 175.2L153.6 176.2 M150.0 185.2L150.7 184.6L152.6 184.9L155.8 183.6 M155.8 183.6L157.6 182.9L158.1 181.6L157.8 181.1L156.1 181.0L155.5 180.2 M155.8 183.6L156.4 185.1 M157.8 181.1L158.3 180.0L158.4 179.2 M155.0 179.8L155.3 179.9 M156.9 171.1L158.9 170.5L160.4 171.2L161.5 171.6L161.5 172.3 M161.5 172.3L161.3 173.8L161.9 175.6L161.3 176.4 M161.3 176.4L162.6 178.1L161.8 179.5 M161.3 176.4L164.7 176.4L166.6 174.9L167.0 173.5L168.0 171.8L170.1 171.2 M161.5 172.3L163.6 171.8L164.8 171.0L165.8 171.3L167.6 170.3L168.0 171.5L170.1 171.2 M164.8 171.0L162.3 169.1L160.8 168.0L159.8 167.1L158.3 168.2L158.3 165.4 M158.3 168.2L157.0 167.4L156.1 167.9 M158.3 165.4L159.9 164.9L161.4 165.9L164.5 167.4L165.8 168.4L167.6 167.5 M167.6 167.5L169.5 166.7L173.4 167.4 M173.4 167.4L171.3 168.5L169.4 169.4 M169.4 169.4L170.1 171.2 M165.8 171.3L165.6 169.5L167.3 169.0L169.4 169.4 M165.8 168.4L167.3 169.0 M153.6 164.1L152.5 162.8L152.6 161.4L154.5 160.0L157.3 160.6L159.8 160.6L161.7 160.4L161.4 158.1L163.9 157.6L166.4 156.9L167.6 158.0L169.2 158.1L171.1 157.9L172.0 158.6L173.3 160.7L175.5 160.6L177.8 162.0 M177.8 162.0L176.7 163.7L175.2 163.6L174.7 165.0L173.4 167.4 M177.8 162.0L180.8 160.7L184.5 161.2L184.7 159.7L187.2 160.3L190.2 161.6L193.9 161.4L196.3 161.6 M178.2 162.0L179.9 163.4L180.2 165.2L183.0 165.9L183.5 167.1L186.4 167.3L188.9 168.0L192.1 167.1L193.2 166.4L193.2 165.4L195.5 165.1L196.1 164.2L198.2 164.0L196.8 163.2L195.5 163.0L196.3 161.6 M196.3 161.6L197.8 161.2L198.8 159.3L200.5 158.5L202.1 159.2L203.0 161.4L204.9 162.4L207.7 162.7L206.5 165.4L205.3 165.4L205.2 166.9L205.0 167.4 M205.0 167.4L203.3 168.0L202.6 167.9L201.0 169.1 M202.1 170.8L203.6 170.2 M170.1 171.2L172.0 172.4L172.7 174.5L173.9 176.1L175.8 177.1L178.3 177.7L178.9 178.1L180.8 177.7L182.7 176.8L184.1 177.4 M173.4 177.1L175.8 178.0L178.3 178.7L178.3 177.7 M178.9 178.1L178.9 178.5L180.8 178.4L180.8 177.7 M170.1 171.2L169.8 173.1L169.8 174.5L168.9 176.6L167.0 177.7L167.0 179.2L167.6 180.0L165.9 180.5 M178.3 178.7L178.8 180.1L178.9 181.6 M178.3 178.7L179.4 179.0L181.0 179.6L180.5 180.6L181.1 181.9 M184.1 177.4L182.7 178.6L182.0 180.3L181.6 181.5L181.2 182.1 M184.1 177.4L184.9 179.6L184.3 180.3L185.5 181.5L186.6 181.9 M186.6 181.9L187.2 181.3L189.1 180.7L190.0 181.0L190.8 181.9 M186.6 181.9L185.9 182.7 M185.9 182.7L184.4 183.9L184.9 185.4L185.2 187.1L185.5 188.7L185.0 189.2 M185.9 182.7L186.6 183.2L186.6 184.5L188.3 184.0L189.2 185.5L189.3 186.5 M187.2 181.3L188.3 182.6L188.9 183.8L190.5 186.1L190.5 186.5 M189.3 186.5L187.7 186.6L187.3 187.1L187.6 188.2 M190.5 186.5L190.5 187.9L189.4 188.3L188.6 189.1 M189.3 186.5L190.5 186.5 M185.9 191.5L186.5 192.0L187.1 191.7 M191.8 194.3L192.4 195.0L193.3 194.7L194.9 194.7L195.6 193.0L196.8 193.0 M211.5 197.2L211.5 201.3 M200.9 201.5L201.5 201.4L201.4 201.1"/>

  <!-- ===== chart ===== -->
  <line x1="288.5" y1="434.2" x2="892" y2="434.2" stroke="#d9d9d9" stroke-width="1"/>
  <!-- 2022 -->
  <g>
    <rect x="348" y="319.2" width="83" height="4"    fill="#12aa4b"/>
    <rect x="348" y="323"   width="83" height="4.2"  fill="#7f7f7f"/>
    <rect x="348" y="327"   width="83" height="23.8" fill="#fc9644"/>
    <rect x="348" y="350.6" width="83" height="34.6" fill="#3878b6"/>
    <rect x="348" y="385"   width="83" height="48.7" fill="#b73a32"/>
    <path d="M348.45 385.3V433.7M430.55 385.3V433.7" stroke="#8e1f1c" stroke-width=".9" fill="none" opacity=".85"/>
  </g>
  <!-- 2023 -->
  <g>
    <rect x="549" y="305.3" width="83.4" height="3.5"  fill="#12aa4b"/>
    <rect x="549" y="308.6" width="83.4" height="4.9"  fill="#7f7f7f"/>
    <rect x="549" y="313.3" width="83.4" height="26.8" fill="#fc9644"/>
    <rect x="549" y="339.9" width="83.4" height="39.2" fill="#3878b6"/>
    <rect x="549" y="378.9" width="83.4" height="54.8" fill="#b73a32"/>
    <path d="M549.45 379.2V433.7M631.95 379.2V433.7" stroke="#8e1f1c" stroke-width=".9" fill="none" opacity=".85"/>
  </g>
  <!-- 2028 -->
  <g>
    <rect x="750.1" y="168.6" width="83.9" height="5.9"   fill="#12aa4b"/>
    <rect x="750.1" y="174.3" width="83.9" height="7.7"   fill="#7f7f7f"/>
    <rect x="750.1" y="181.8" width="83.9" height="54.2"  fill="#fc9644"/>
    <rect x="750.1" y="235.8" width="83.9" height="83.2"  fill="#3878b6"/>
    <rect x="750.1" y="318.8" width="83.9" height="114.9" fill="#b73a32"/>
    <path d="M750.55 319.1V433.7M833.55 319.1V433.7" stroke="#8e1f1c" stroke-width=".9" fill="none" opacity=".85"/>
  </g>
  <!-- arrow -->
  <line x1="615.3" y1="287" x2="738" y2="165.3" stroke="#d9dce0" stroke-width="1"/>
  <path d="M741.2 162.6 L734.2 165 L738.8 169.6 Z" fill="#ccd0d6"/>
  <!-- CAGR bubble -->
  <circle cx="677.1" cy="224.8" r="26.1" fill="#f57e0c"/>

  <!-- legend squares -->
  <rect x="423"   y="459" width="4.8" height="4.8" fill="#b73a32"/>
  <rect x="493"   y="459" width="4.8" height="4.8" fill="#3878b6"/>
  <rect x="536.4" y="459" width="4.8" height="4.8" fill="#fc9644"/>
  <rect x="595"   y="459" width="4.8" height="4.8" fill="#7f7f7f"/>
  <rect x="661.3" y="459" width="4.8" height="4.8" fill="#12aa4b"/>

  <!-- ===== text ===== -->
  <g font-family="'Liberation Sans',sans-serif">
    <text y="45.3" font-size="24.3" font-weight="700" fill="#ffffff"><tspan x="20.06" textLength="21.44" lengthAdjust="spacingAndGlyphs">AI</tspan> <tspan x="45.14" textLength="22.53" lengthAdjust="spacingAndGlyphs">IN</tspan> <tspan x="72.31" textLength="122.99" lengthAdjust="spacingAndGlyphs">PATHOLOGY</tspan> <tspan x="200.41" textLength="78.42" lengthAdjust="spacingAndGlyphs">MARKET</tspan></text>
    <text y="66.1" font-size="18.9" font-weight="700" fill="#d3dbe6"><tspan x="20.53" textLength="60.12" lengthAdjust="spacingAndGlyphs">GLOBAL</tspan> <tspan x="84.65" textLength="80.80" lengthAdjust="spacingAndGlyphs">FORECAST</tspan> <tspan x="167.65" textLength="19.94" lengthAdjust="spacingAndGlyphs">TO</tspan> <tspan x="191.19" textLength="39.04" lengthAdjust="spacingAndGlyphs">2028</tspan> <tspan x="236.03" textLength="37.86" lengthAdjust="spacingAndGlyphs">(USD</tspan> <tspan x="278.37" textLength="29.89" lengthAdjust="spacingAndGlyphs">MN)</tspan></text>
    <text y="275.4" font-size="19.9" font-weight="700" fill="#a6a6a6"><tspan x="16.49" textLength="44.57" lengthAdjust="spacingAndGlyphs">CAGR</tspan> <tspan x="65.48" textLength="21.44" lengthAdjust="spacingAndGlyphs">OF</tspan></text>
    <text x="19.31" y="313.1" font-size="42" fill="#4a86cf" textLength="78.81" lengthAdjust="spacingAndGlyphs" stroke="#4a86cf" stroke-width="1.3" stroke-linejoin="round">15.6</text>
    <text x="99.08" y="313.2" font-size="23.8" fill="#4a86cf" textLength="17.13" lengthAdjust="spacingAndGlyphs" stroke="#4a86cf" stroke-width=".9">%</text>
    <text x="390.85" y="311.3" font-size="15.6" fill="#1a1a1a" text-anchor="middle" stroke="#1a1a1a" stroke-width=".3">21</text>
    <text x="591.15" y="297.5" font-size="15.6" fill="#1a1a1a" text-anchor="middle" stroke="#1a1a1a" stroke-width=".3">24</text>
    <text x="791.75" y="159.5" font-size="15.6" fill="#1a1a1a" text-anchor="middle" stroke="#1a1a1a" stroke-width=".3">49</text>
    <text x="656.02" y="235" font-size="15.6" font-weight="700" fill="#fff3e2" textLength="35.03" lengthAdjust="spacingAndGlyphs">15.6</text>
    <text x="691.37" y="235" font-size="10.2" font-weight="700" fill="#fff3e2" textLength="8.26" lengthAdjust="spacingAndGlyphs">%</text>
    <text x="379.12" y="447" font-size="8.6" fill="#1c1c1c" textLength="21.15" lengthAdjust="spacingAndGlyphs" stroke="#1c1c1c" stroke-width=".12">2022</text>
    <text x="580.33" y="447" font-size="8.6" fill="#1c1c1c" textLength="20.84" lengthAdjust="spacingAndGlyphs" stroke="#1c1c1c" stroke-width=".12">2023</text>
    <text x="781.73" y="447" font-size="8.6" fill="#1c1c1c" textLength="20.84" lengthAdjust="spacingAndGlyphs" stroke="#1c1c1c" stroke-width=".12">2028</text>
    <text x="429.36" y="464.2" font-size="8.9" fill="#333333" textLength="50.65" lengthAdjust="spacingAndGlyphs" stroke="#333" stroke-width=".12">North America</text>
    <text x="498.75" y="464.2" font-size="8.9" fill="#333333" textLength="26.21" lengthAdjust="spacingAndGlyphs" stroke="#333" stroke-width=".12">Europe</text>
    <text x="542.40" y="464.2" font-size="8.9" fill="#333333" textLength="40.38" lengthAdjust="spacingAndGlyphs" stroke="#333" stroke-width=".12">Asia-Pacific</text>
    <text x="600.96" y="464.2" font-size="8.9" fill="#333333" textLength="48.43" lengthAdjust="spacingAndGlyphs" stroke="#333" stroke-width=".12">Latin America</text>
    <text x="667.35" y="464.2" font-size="8.9" fill="#333333" textLength="72.68" lengthAdjust="spacingAndGlyphs" stroke="#333" stroke-width=".12">Middle East &amp; Africa</text>
  </g>
</svg>

<div class="para">
  <div>The global AI in pathology</div>
  <div>market is expected to be</div>
  <div>worth USD &nbsp;49 million by</div>
  <div>2028, growing at a CAGR of</div>
  <div>15.6% during the forecast</div>
  <div class="last">period</div>
</div>
</body>
</html>
